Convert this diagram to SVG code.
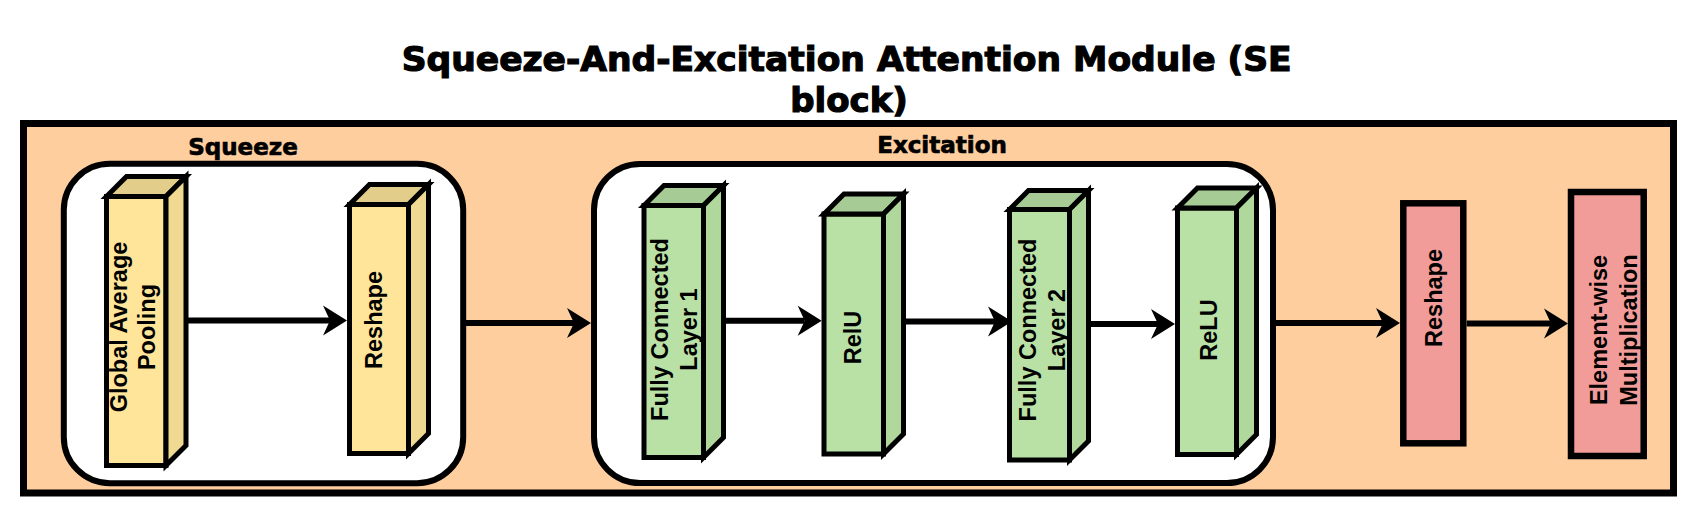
<svg xmlns="http://www.w3.org/2000/svg" width="1697" height="517" viewBox="0 0 1697 517">
<defs>
<style>
.title{font-family:"DejaVu Sans",sans-serif;font-weight:bold;fill:#000;stroke:#000;stroke-width:1.2;text-anchor:middle}
.sec{font-family:"DejaVu Sans",sans-serif;font-weight:bold;fill:#000;stroke:#000;stroke-width:0.7;text-anchor:middle}
.lbl{font-family:"Liberation Sans",Arial,sans-serif;font-weight:bold;font-size:23.5px;fill:#000;text-anchor:middle}
.edge{stroke:#000;stroke-width:6;fill:none;marker-end:url(#arr)}
.cube path,.cube rect{stroke:#000;stroke-width:5;stroke-linejoin:miter}
.y .f{fill:#FFE59A}.y .t{fill:#E3CD8B}.y .s{fill:#F0D990}
.g .f{fill:#B9E0A5}.g .t{fill:#A6CB94}.g .s{fill:#B0D79C}
.red{fill:#F19C99;stroke:#000;stroke-width:6.5}
.cont{fill:#FFFFFF;stroke:#000;stroke-width:6}
</style>
<marker id="arr" viewBox="-8 -16 26 32" refX="0" refY="0" markerWidth="26" markerHeight="32" markerUnits="userSpaceOnUse" orient="auto" overflow="visible">
<path d="M17,0 L-7,-15 L0,0 L-7,15 Z" fill="#000"/>
</marker>
</defs>
<rect width="1697" height="517" fill="#FFFFFF"/>
<g id="title">
<text class="title" x="846.7" y="71" font-size="34" textLength="890" lengthAdjust="spacingAndGlyphs">Squeeze-And-Excitation Attention Module (SE</text>
<text class="title" x="849" y="112" font-size="34">block)</text>
</g>
<g id="frame">
<rect x="23.5" y="123.5" width="1650" height="369.5" fill="#FFCE9F" stroke="#000" stroke-width="7"/>
</g>
<g id="squeeze">
<rect class="cont" x="63.8" y="163.8" width="399.4" height="319.4" rx="46" ry="46"/>
<text class="sec" x="243" y="155" font-size="23">Squeeze</text>
</g>
<g id="excitation">
<rect class="cont" x="594" y="164" width="679" height="319" rx="46" ry="46"/>
<text class="sec" x="942" y="153" font-size="23">Excitation</text>
</g>
<g id="connectors">
<line class="edge" x1="186" y1="320.5" x2="330" y2="320.5"/>
<line class="edge" x1="466" y1="323" x2="574" y2="323"/>
<line class="edge" x1="723.5" y1="320.7" x2="804.7" y2="320.7"/>
<line class="edge" x1="903.5" y1="321.5" x2="995" y2="321.5"/>
<line class="edge" x1="1088.5" y1="324" x2="1158" y2="324"/>
<line class="edge" x1="1276" y1="323" x2="1383" y2="323"/>
<line class="edge" x1="1466.7" y1="323.5" x2="1551" y2="323.5"/>
</g>
<g id="gap" class="cube y">
<rect class="f" x="106.5" y="196.5" width="59.5" height="269"/>
<path class="t" d="M106.5,196.5 L126.5,176.5 L186,176.5 L166,196.5 Z"/>
<path class="s" d="M166,196.5 L186,176.5 L186,445.5 L166,465.5 Z"/>
<text class="lbl" transform="translate(126.7,327) rotate(-90)"><tspan x="0" y="0">Global Average</tspan><tspan x="0" y="28.3">Pooling</tspan></text>
</g>
<g id="reshape1" class="cube y">
<rect class="f" x="349.5" y="204.5" width="59" height="249"/>
<path class="t" d="M349.5,204.5 L369.5,184.5 L428.5,184.5 L408.5,204.5 Z"/>
<path class="s" d="M408.5,204.5 L428.5,184.5 L428.5,433.5 L408.5,453.5 Z"/>
<text class="lbl" transform="translate(381.7,320) rotate(-90)">Reshape</text>
</g>
<g id="fc1" class="cube g">
<rect class="f" x="644" y="205.5" width="59.5" height="252"/>
<path class="t" d="M644,205.5 L664,185.5 L723.5,185.5 L703.5,205.5 Z"/>
<path class="s" d="M703.5,205.5 L723.5,185.5 L723.5,437.5 L703.5,457.5 Z"/>
<text class="lbl" transform="translate(667.7,329.5) rotate(-90)"><tspan x="0" y="0">Fully Connected</tspan><tspan x="0" y="29.5">Layer 1</tspan></text>
</g>
<g id="relu1" class="cube g">
<rect class="f" x="824" y="214" width="59.5" height="240"/>
<path class="t" d="M824,214 L844,194 L903.5,194 L883.5,214 Z"/>
<path class="s" d="M883.5,214 L903.5,194 L903.5,434 L883.5,454 Z"/>
<text class="lbl" transform="translate(861,337.5) rotate(-90)">RelU</text>
</g>
<g id="fc2" class="cube g">
<rect class="f" x="1009.5" y="209.5" width="60" height="250.5"/>
<path class="t" d="M1009.5,209.5 L1028.5,190.5 L1088.5,190.5 L1069.5,209.5 Z"/>
<path class="s" d="M1069.5,209.5 L1088.5,190.5 L1088.5,441 L1069.5,460 Z"/>
<text class="lbl" transform="translate(1036,330) rotate(-90)"><tspan x="0" y="0">Fully Connected</tspan><tspan x="0" y="29">Layer 2</tspan></text>
</g>
<g id="relu2" class="cube g">
<rect class="f" x="1177.5" y="208" width="59" height="246.5"/>
<path class="t" d="M1177.5,208 L1197.5,188 L1256.5,188 L1236.5,208 Z"/>
<path class="s" d="M1236.5,208 L1256.5,188 L1256.5,434.5 L1236.5,454.5 Z"/>
<text class="lbl" transform="translate(1217.3,330) rotate(-90)">ReLU</text>
</g>
<g id="reshape2">
<rect class="red" x="1403.3" y="203.3" width="60" height="240"/>
<text class="lbl" transform="translate(1441.7,298) rotate(-90)">Reshape</text>
</g>
<g id="multiply">
<rect class="red" x="1571" y="192" width="72.7" height="264"/>
<text class="lbl" transform="translate(1606.7,330) rotate(-90)"><tspan x="0" y="0">Element-wise</tspan><tspan x="0" y="30">Multiplication</tspan></text>
</g>
</svg>
